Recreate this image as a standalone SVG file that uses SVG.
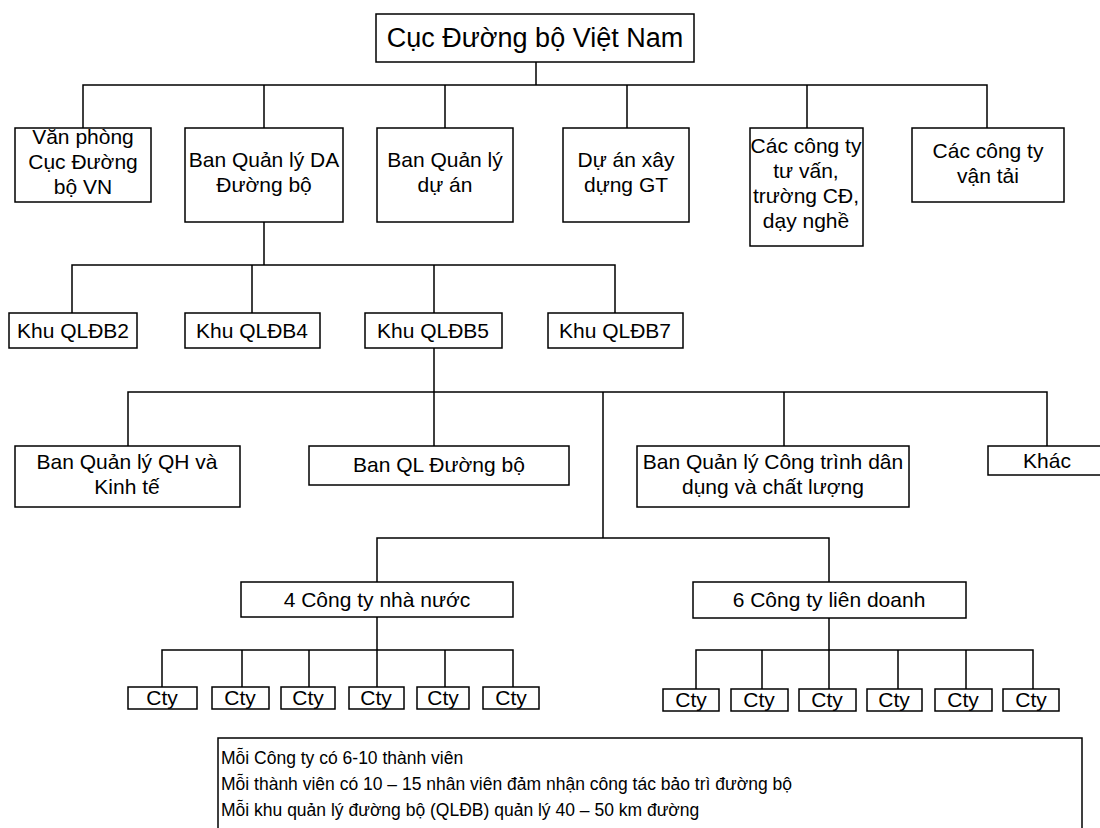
<svg xmlns="http://www.w3.org/2000/svg" width="1100" height="828" viewBox="0 0 1100 828">
<style>
rect{fill:#fff;stroke:#000;stroke-width:1.5}
.c line,.c path{stroke:#000;stroke-width:1.5;fill:none}
text{font-family:"Liberation Sans",Arial,sans-serif;font-size:21px;fill:#000;text-anchor:middle}
.t{font-size:27px}
.n{font-size:17.5px;text-anchor:start}
</style>
<rect x="0" y="0" width="1100" height="828" style="stroke:none"/>
<g class="c" id="connectors">
<path d="M536 62V85M83 128V85H987V128M264 85V128M445 85V128M627 85V128M807 85V128"/>
<path d="M264 222V265M72 313V265H615V313M252 265V313M434 265V313"/>
<path d="M434 348V392M128 446V392H1047V446M434 392V446M784 392V446M603 392V538"/>
<path d="M377 582V538H829V582"/>
<path d="M377 617V650M162 687V650H513V687M242 650V687M309 650V687M377 650V687M445 650V687"/>
<path d="M829 618V650M696 689V650H1033V689M762 650V689M829 650V689M898 650V689M966 650V689"/>
</g>
<g id="n0"><rect x="376" y="14" width="318" height="48"/><text class="t" x="535" y="47">Cục Đường bộ Việt Nam</text></g>
<g id="n1"><rect x="15" y="128" width="136" height="74"/><text x="83" y="144">Văn phòng</text><text x="83" y="169">Cục Đường</text><text x="83" y="194">bộ VN</text></g>
<g id="n2"><rect x="185" y="128" width="158" height="94"/><text x="264" y="167">Ban Quản lý DA</text><text x="264" y="192">Đường bộ</text></g>
<g id="n3"><rect x="377" y="128" width="136" height="94"/><text x="445" y="167">Ban Quản lý</text><text x="445" y="192">dự án</text></g>
<g id="n4"><rect x="563" y="128" width="126" height="94"/><text x="626" y="167">Dự án xây</text><text x="626" y="192">dựng GT</text></g>
<g id="n5"><rect x="750" y="128" width="113" height="118"/><text x="806" y="153">Các công ty</text><text x="806" y="178">tư vấn,</text><text x="806" y="203">trường CĐ,</text><text x="806" y="228">dạy nghề</text></g>
<g id="n6"><rect x="912" y="128" width="152" height="74"/><text x="988" y="158">Các công ty</text><text x="988" y="183">vận tải</text></g>
<g id="k2"><rect x="9" y="313" width="128" height="35"/><text x="73" y="338">Khu QLĐB2</text></g>
<g id="k4"><rect x="185" y="313" width="135" height="35"/><text x="252" y="338">Khu QLĐB4</text></g>
<g id="k5"><rect x="365" y="313" width="137" height="35"/><text x="433" y="338">Khu QLĐB5</text></g>
<g id="k7"><rect x="548" y="313" width="135" height="35"/><text x="615" y="338">Khu QLĐB7</text></g>
<g id="b1"><rect x="15" y="446" width="225" height="61"/><text x="127" y="469">Ban Quản lý QH và</text><text x="127" y="494">Kinh tế</text></g>
<g id="b2"><rect x="309" y="446" width="260" height="39"/><text x="439" y="472">Ban QL Đường bộ</text></g>
<g id="b3"><rect x="637" y="446" width="272" height="61"/><text x="773" y="469">Ban Quản lý Công trình dân</text><text x="773" y="494">dụng và chất lượng</text></g>
<g id="b4"><rect x="988" y="446" width="118" height="29"/><text x="1047" y="468">Khác</text></g>
<g id="g1"><rect x="241" y="582" width="272" height="35"/><text x="377" y="607">4 Công ty nhà nước</text></g>
<g id="g2"><rect x="693" y="582" width="273" height="36"/><text x="829" y="607">6 Công ty liên doanh</text></g>
<g id="c1"><rect x="128" y="687" width="69" height="22"/><text x="162" y="705">Cty</text></g>
<g id="c2"><rect x="212" y="687" width="57" height="22"/><text x="240" y="705">Cty</text></g>
<g id="c3"><rect x="281" y="687" width="54" height="22"/><text x="308" y="705">Cty</text></g>
<g id="c4"><rect x="349" y="687" width="55" height="22"/><text x="376" y="705">Cty</text></g>
<g id="c5"><rect x="417" y="687" width="52" height="22"/><text x="443" y="705">Cty</text></g>
<g id="c6"><rect x="483" y="687" width="56" height="22"/><text x="511" y="705">Cty</text></g>
<g id="c7"><rect x="663" y="689" width="56" height="22"/><text x="691" y="707">Cty</text></g>
<g id="c8"><rect x="731" y="689" width="57" height="22"/><text x="759" y="707">Cty</text></g>
<g id="c9"><rect x="799" y="689" width="57" height="22"/><text x="827" y="707">Cty</text></g>
<g id="c10"><rect x="867" y="689" width="55" height="22"/><text x="894" y="707">Cty</text></g>
<g id="c11"><rect x="935" y="689" width="57" height="22"/><text x="963" y="707">Cty</text></g>
<g id="c12"><rect x="1003" y="689" width="56" height="22"/><text x="1031" y="707">Cty</text></g>
<g id="note"><rect x="218" y="738" width="864" height="100"/><text class="n" x="221" y="764">Mỗi Công ty có 6-10 thành viên</text><text class="n" x="221" y="790">Mỗi thành viên có 10 – 15 nhân viên đảm nhận công tác bảo trì đường bộ</text><text class="n" x="221" y="816">Mỗi khu quản lý đường bộ (QLĐB) quản lý 40 – 50 km đường</text></g>
</svg>
